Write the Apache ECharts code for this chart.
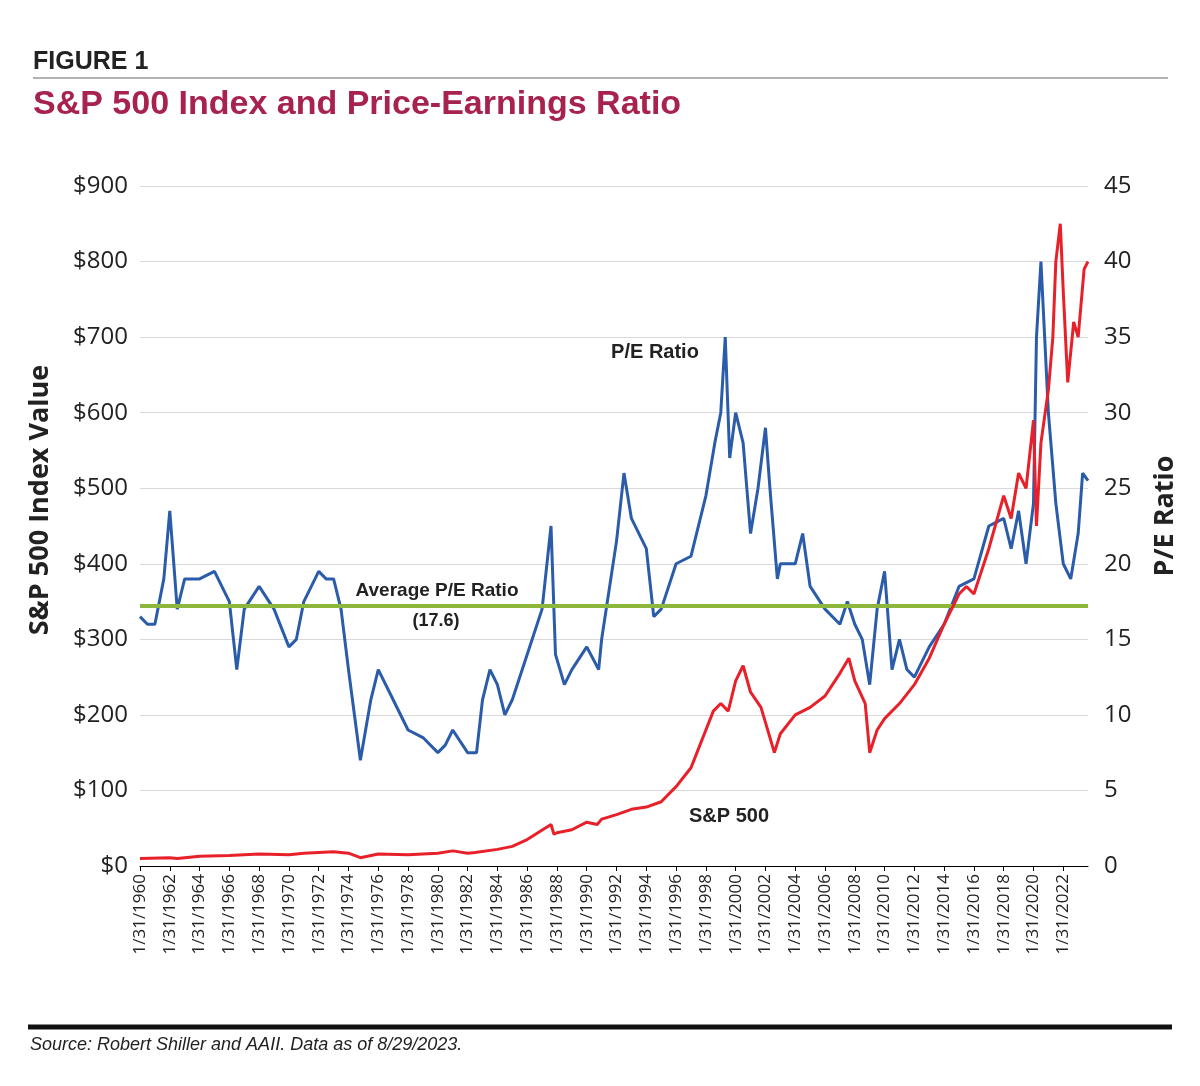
<!DOCTYPE html>
<html><head><meta charset="utf-8">
<script src="https://cdn.jsdelivr.net/npm/echarts@6/dist/echarts.min.js"></script>
<style>body{margin:0;background:#fff}#c{width:1200px;height:1086px}</style>
</head><body><div id="c"></div>
<script>
const spYears=[1960,1962,1962.5,1964,1966,1968,1970,1971,1973,1974,1974.8,1976,1978,1980,1981,1982,1982.5,1984,1985,1986,1987.6,1987.8,1988,1989,1990,1990.7,1991,1992,1993,1994,1995,1996,1997,1997.6,1998,1998.5,1999,1999.5,2000,2000.5,2001,2001.7,2002,2002.6,2003,2004,2005,2006,2007,2007.6,2008,2008.7,2009,2009.5,2010,2011,2012,2013,2014,2015,2015.5,2016,2017,2018,2018.5,2019,2019.5,2020,2020.2,2020.5,2021,2021.3,2021.5,2021.8,2022,2022.3,2022.7,2023,2023.4,2023.66];
const spValues=[10,11,10,13,14,16,15,17,19,17,11,16,15,17,20,17,18,22,26,35,55,42,44,48,58,55,62,68,75,78,85,105,130,160,180,205,215,205,245,265,230,210,190,150,175,200,210,225,255,275,245,215,150,180,195,215,240,275,320,360,370,360,420,490,460,520,500,590,450,560,630,700,800,850,760,640,720,700,790,800];
const peYears=[1960,1960.5,1961,1961.6,1962,1962.5,1963,1964,1965,1966,1966.5,1967,1968,1969,1970,1970.5,1971,1972,1972.5,1973,1973.5,1974,1974.8,1975.5,1976,1977,1978,1979,1980,1980.5,1981,1982,1982.6,1983,1983.5,1984,1984.5,1985,1986,1987,1987.6,1987.9,1988.5,1989,1990,1990.8,1991,1992,1992.5,1993,1994,1994.5,1995,1996,1997,1998,1998.6,1999,1999.3,1999.6,2000,2000.5,2001,2001.5,2002,2002.3,2002.8,2003,2004,2004.5,2005,2006,2007,2007.5,2008,2008.5,2009,2009.5,2010,2010.5,2011,2011.5,2012,2013,2014,2015,2016,2017,2018,2018.5,2019,2019.5,2020,2020.2,2020.5,2021,2021.5,2022,2022.5,2023,2023.3,2023.66];
const peValues=[16.5,16,16,19,23.5,17,19,19,19.5,17.5,13,17,18.5,17,14.5,15,17.5,19.5,19,19,17,13,7,11,13,11,9,8.5,7.5,8,9,7.5,7.5,11,13,12,10,11,14,17,22.5,14,12,13,14.5,13,15,21.5,26,23,21,16.5,17,20,20.5,24.5,28,30,35,27,30,28,22,25,29,25,19,20,20,22,18.5,17,16,17.5,16,15,12,17,19.5,13,15,13,12.5,14.5,16,18.5,19,22.5,23,21,23.5,20,24,35,40,30,24,20,19,22,26,25.5];
const avgPE=17.2;
const sp=spYears.map((y,i)=>[y,spValues[i]]);
const pe=peYears.map((y,i)=>[y,peValues[i]]);
const ch=echarts.init(document.getElementById('c'));
const lab={color:'#222',fontSize:24,fontFamily:'Open Sans'};
ch.setOption({
 animation:false,
 grid:{left:140,right:112,top:186,bottom:220},
 xAxis:{type:'value',min:1960,max:2023.66,interval:2,
  axisLine:{lineStyle:{color:'#000'}},axisTick:{show:true,lineStyle:{color:'#000'}},splitLine:{show:false},
  axisLabel:{rotate:90,showMaxLabel:false,color:'#222',fontSize:17,fontFamily:'Open Sans',formatter:v=>'1/31/'+v}},
 yAxis:[{type:'value',min:0,max:900,interval:100,axisLabel:Object.assign({formatter:'${value}',margin:12},lab),
   splitLine:{lineStyle:{color:'#d9d9d9'}},axisLine:{show:false},axisTick:{show:false}},
  {type:'value',min:0,max:45,interval:5,axisLabel:Object.assign({margin:16},lab),splitLine:{show:false},axisLine:{show:false},axisTick:{show:false}}],
 series:[
  {type:'line',yAxisIndex:1,data:pe,showSymbol:false,lineStyle:{color:'#2a5caa',width:3},z:2},
  {type:'line',yAxisIndex:1,data:[[1960,avgPE],[2023.66,avgPE]],showSymbol:false,lineStyle:{color:'#8db63c',width:4},z:3},
  {type:'line',yAxisIndex:0,data:sp,showSymbol:false,lineStyle:{color:'#e8202a',width:3},z:4}
 ],
 graphic:[
  {type:'text',left:33,top:50,style:{text:'FIGURE 1',font:'bold 25px Liberation Sans',fill:'#222'}},
  {type:'line',shape:{x1:33,y1:78,x2:1168,y2:78},style:{stroke:'#999',lineWidth:1.5}},
  {type:'text',left:33,top:88,style:{text:'S&P 500 Index and Price-Earnings Ratio',font:'bold 34px Liberation Sans',fill:'#a8224e'}},
  {type:'text',x:40,y:500,rotation:Math.PI/2,style:{text:'S&P 500 Index Value',font:'bold 27px Open Sans',fill:'#222',align:'center',verticalAlign:'middle'}},
  {type:'text',x:1165,y:516,rotation:Math.PI/2,style:{text:'P/E Ratio',font:'bold 27px Open Sans',fill:'#222',align:'center',verticalAlign:'middle'}},
  {type:'text',x:437,y:591,style:{text:'Average P/E Ratio',font:'bold 19px Liberation Sans',fill:'#222',align:'center',verticalAlign:'middle'}},
  {type:'text',x:436,y:621,style:{text:'(17.6)',font:'bold 18px Liberation Sans',fill:'#222',align:'center',verticalAlign:'middle'}},
  {type:'text',x:655,y:352,style:{text:'P/E Ratio',font:'bold 20px Liberation Sans',fill:'#222',align:'center',verticalAlign:'middle'}},
  {type:'text',x:729,y:816,style:{text:'S&P 500',font:'bold 20px Liberation Sans',fill:'#222',align:'center',verticalAlign:'middle'}},
  {type:'line',shape:{x1:28,y1:1027,x2:1172,y2:1027},style:{stroke:'#111',lineWidth:5}},
  {type:'text',left:30,top:1036,style:{text:'Source: Robert Shiller and AAII. Data as of 8/29/2023.',font:'italic 18px Liberation Sans',fill:'#222'}}
 ]
});
</script></body></html>
